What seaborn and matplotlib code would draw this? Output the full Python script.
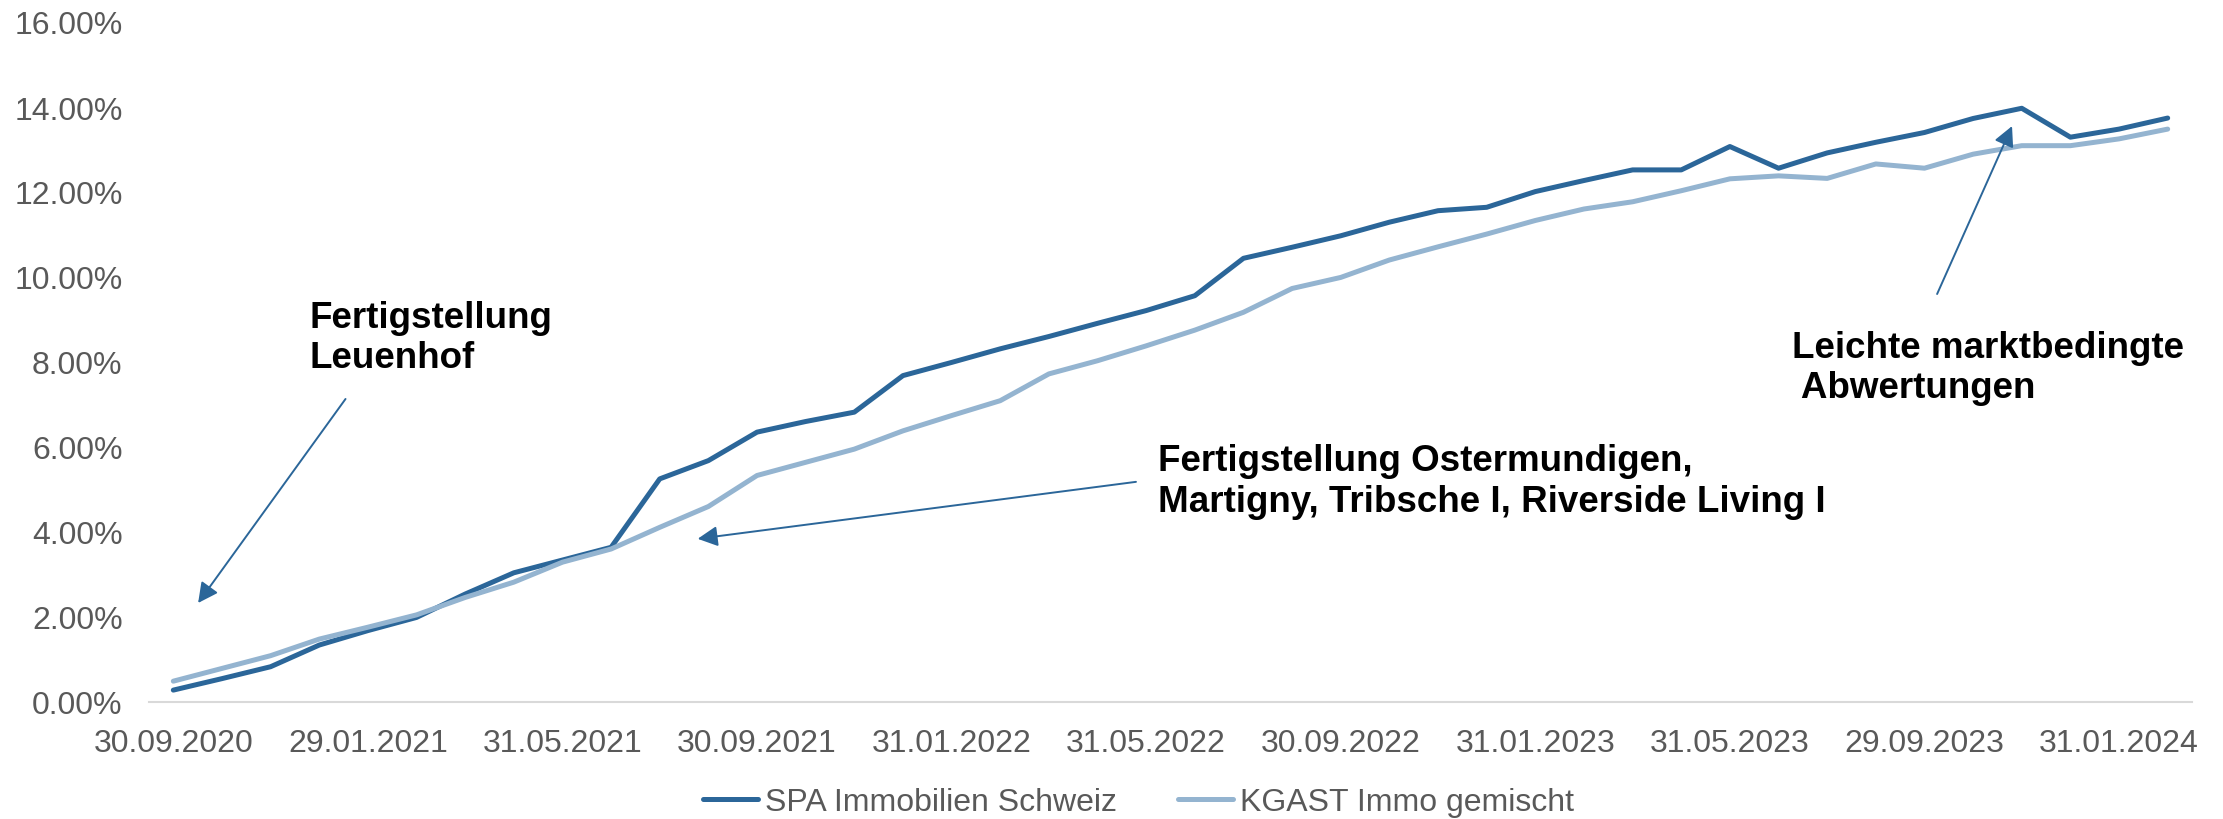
import numpy as np
import pandas as pd
import matplotlib
matplotlib.use("Agg")
import matplotlib.pyplot as plt
import seaborn as sns
from matplotlib.ticker import FuncFormatter

dates = ["30.09.2020", "30.10.2020", "30.11.2020", "31.12.2020",
         "29.01.2021", "26.02.2021", "31.03.2021", "30.04.2021", "31.05.2021", "30.06.2021",
         "30.07.2021", "31.08.2021", "30.09.2021", "29.10.2021", "30.11.2021", "31.12.2021",
         "31.01.2022", "28.02.2022", "31.03.2022", "29.04.2022", "31.05.2022", "30.06.2022",
         "29.07.2022", "31.08.2022", "30.09.2022", "31.10.2022", "30.11.2022", "30.12.2022",
         "31.01.2023", "28.02.2023", "31.03.2023", "28.04.2023", "31.05.2023", "30.06.2023",
         "31.07.2023", "31.08.2023", "29.09.2023", "31.10.2023", "30.11.2023", "29.12.2023",
         "31.01.2024", "29.02.2024"]

spa = [0.28, 0.55, 0.83, 1.34, 1.68, 1.99, 2.54, 3.04, 3.34, 3.64,
       5.25, 5.68, 6.35, 6.60, 6.82, 7.68, 7.99, 8.31, 8.60, 8.91,
       9.21, 9.56, 10.44, 10.70, 10.97, 11.29, 11.56, 11.64, 12.01, 12.27,
       12.52, 12.52, 13.07, 12.56, 12.92, 13.17, 13.40, 13.73, 13.97, 13.29,
       13.48, 13.74]

kgast = [0.49, 0.79, 1.09, 1.48, 1.76, 2.05, 2.46, 2.82, 3.29, 3.60,
         4.11, 4.60, 5.33, 5.64, 5.95, 6.38, 6.74, 7.09, 7.72, 8.03,
         8.38, 8.75, 9.17, 9.73, 9.99, 10.40, 10.71, 11.01, 11.33, 11.60,
         11.77, 12.03, 12.31, 12.38, 12.32, 12.66, 12.56, 12.89, 13.09, 13.09,
         13.25, 13.48]

series_names = ["SPA Immobilien Schweiz", "KGAST Immo gemischt"]
colors = ["#2B6699", "#94B4D0"]

sns.set_theme(style="white")
plt.rcParams['font.family'] = ['Liberation Sans', 'DejaVu Sans']

n = len(dates)
df = pd.DataFrame({
    "idx": list(range(n)) * 2,
    "value": spa + kgast,
    "series": [series_names[0]] * n + [series_names[1]] * n,
})

fig = plt.figure(figsize=(22.23, 8.2), dpi=100)
ax = fig.add_axes([149 / 2223, 1 - 703 / 820, (2192 - 149) / 2223, (703 - 23) / 820])

sns.lineplot(data=df, x="idx", y="value", hue="series", palette=colors,
             linewidth=3.6, ax=ax, legend=True, solid_capstyle="round")

ax.set_xlim(-0.5, n - 0.5)
ax.set_ylim(0, 16)
ax.set_yticks(np.arange(0, 17, 2))
ax.yaxis.set_major_formatter(FuncFormatter(lambda v, p: f"{v:.2f}%"))
tick_pos = list(range(0, n, 4))
ax.set_xticks(tick_pos)
ax.set_xticklabels([dates[i] for i in tick_pos])
ax.set_xlabel("")
ax.set_ylabel("")
ax.tick_params(axis="both", length=0, labelsize=23, labelcolor="#595959")
ax.tick_params(axis="x", pad=19)
ax.tick_params(axis="y", pad=19)
for s in ["top", "right", "left"]:
    ax.spines[s].set_visible(False)
ax.spines["bottom"].set_color("#D9D9D9")
ax.spines["bottom"].set_linewidth(1.5)
ax.grid(False)

handles, labels = ax.get_legend_handles_labels()
ax.legend_.remove()
leg = fig.legend(handles, labels, loc="center", bbox_to_anchor=(0.512, 0.021),
                 ncol=2, frameon=False, fontsize=23, handlelength=1.75,
                 handletextpad=0.2, columnspacing=1.9)
for t in leg.get_texts():
    t.set_color("#595959")
for h in leg.legend_handles:
    h.set_linewidth(3.6)
    h.set_solid_capstyle("round")

arrow_color = "#2B6699"
aprops = dict(arrowstyle="-|>,head_length=0.55,head_width=0.28", color=arrow_color,
              lw=1.4, mutation_scale=22, shrinkA=0, shrinkB=0)

ax.annotate("", xy=(0.51, 2.33), xytext=(3.54, 7.13), arrowprops=aprops)
ax.annotate("", xy=(10.78, 3.84), xytext=(19.79, 5.18), arrowprops=aprops)
ax.annotate("", xy=(37.8, 13.55), xytext=(36.26, 9.6), arrowprops=aprops)

tkw = dict(fontsize=26.5, fontweight="bold", color="black", ha="left", va="center")
ax.text(2.80, 8.58, "Fertigstellung\nLeuenhof", linespacing=1.17, **tkw)
ax.text(20.25, 5.19, "Fertigstellung Ostermundigen,\nMartigny, Tribsche I, Riverside Living I",
        linespacing=1.22, **tkw)
ax.text(33.27, 7.87, "Leichte marktbedingte\n Abwertungen", linespacing=1.17, **tkw)

fig.savefig("out.png", dpi=100)
